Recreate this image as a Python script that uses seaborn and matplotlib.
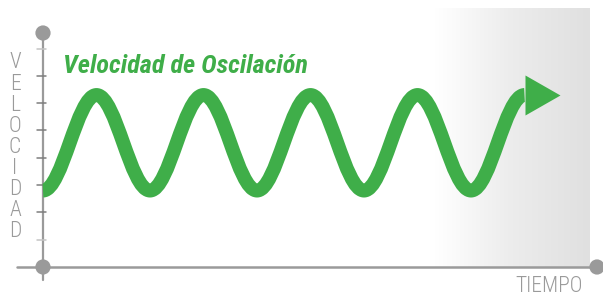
"""
Gráfico: Velocidad de Oscilación (onda verde sobre ejes VELOCIDAD / TIEMPO)
Salida: out.png (603x296 px)
"""

import matplotlib.pyplot as plt
import numpy as np
import seaborn as sns
from matplotlib.colors import LinearSegmentedColormap
from matplotlib.patches import PathPatch
from matplotlib.path import Path

# 1. Datos
title_text = "Velocidad de Oscilación"
y_label = "VELOCIDAD"
x_label = "TIEMPO"

# crestas y valles de la onda (tiempo en periodos, velocidad en marcas del eje)
wave_time = [0.0, 0.5, 1.0, 1.5, 2.0, 2.5, 3.0, 3.5, 4.0, 4.5]
wave_level = [2.8, 6.3, 2.8, 6.3, 2.8, 6.3, 2.8, 6.3, 2.8, 6.3]

y_ticks = [1, 2, 3, 4, 5, 6, 7, 8]

# 2. Estilo
GREEN = "#3fae49"
GREY = "#9a9a9a"
PX_X = 107.0   # px por periodo
PX_Y = 27.3    # px por marca
NARROW = ["Roboto Condensed", "Archivo Narrow", "PT Sans Narrow",
          "Fira Sans Condensed", "Barlow Condensed", "DejaVu Sans"]

sns.set_theme(style="white")

fig = plt.figure(figsize=(6.03, 2.96), dpi=100)
ax = fig.add_axes([0, 0, 1, 1])
ax.set_xlim(-43 / PX_X, 560 / PX_X)
ax.set_ylim(-29 / PX_Y, 267 / PX_Y)
ax.axis("off")

# zona gris degradada al final del tiempo
fade = LinearSegmentedColormap.from_list("fade", ["#ffffff", "#ececec", "#e0e0e0"])
ax.imshow(np.linspace(0, 1, 256).reshape(1, -1), cmap=fade, aspect="auto",
          extent=[392 / PX_X, 547 / PX_X, 0, 258 / PX_Y], zorder=0)

# ejes
x_end = 554 / PX_X
y_end = 234 / PX_Y
ax.plot([0, 0], [-13 / PX_Y, y_end], color=GREY, lw=1.6, zorder=1)
ax.plot([-26 / PX_X, x_end], [0, 0], color=GREY, lw=1.8, zorder=1)
for k in y_ticks:
    tick_color = "#c4c4c4" if k in (y_ticks[0], y_ticks[-1]) else "#7d7d7d"
    ax.plot([-6 / PX_X, 3 / PX_X], [k, k], color=tick_color, lw=1.1, zorder=1)

sns.scatterplot(x=[0, 0, x_end], y=[y_end, 0, 0], s=120, color=GREY,
                edgecolor="none", ax=ax, zorder=3, legend=False)

# 3. Onda (curvas bezier entre crestas y valles)
a = 0.364
verts = [(wave_time[0], wave_level[0])]
codes = [Path.MOVETO]
for x0, y0, x1, y1 in zip(wave_time[:-1], wave_level[:-1], wave_time[1:], wave_level[1:]):
    dx = x1 - x0
    verts += [(x0 + a * dx, y0), (x1 - a * dx, y1), (x1, y1)]
    codes += [Path.CURVE4] * 3
ax.add_patch(PathPatch(Path(verts, codes), fill=False, edgecolor=GREEN,
                       lw=10, capstyle="butt", joinstyle="round", zorder=2))

# punta de flecha
arrow = [(0, -20), (35, 0), (0, 20), (0, -20)]
ax.plot(wave_time[-1], wave_level[-1], marker=arrow, markersize=50.4,
        color=GREEN, markeredgewidth=0, zorder=2)

# 4. Textos
ax.text(20 / PX_X, 194 / PX_Y, title_text, color=GREEN, fontsize=18.9,
        fontweight="bold", fontstyle="italic", family=NARROW,
        ha="left", va="baseline")

for i, letter in enumerate(y_label):
    ax.text(-28 / PX_X, (267 - 63 - 21.1 * i) / PX_Y, letter, color=GREY,
            fontsize=15.5, fontweight="light", family=NARROW,
            ha="center", va="center")

ax.text(506 / PX_X, -19 / PX_Y, x_label, color=GREY, fontsize=15.5,
        fontweight="light", family=NARROW, ha="center", va="center")

fig.savefig("out.png", dpi=100)
plt.close(fig)
